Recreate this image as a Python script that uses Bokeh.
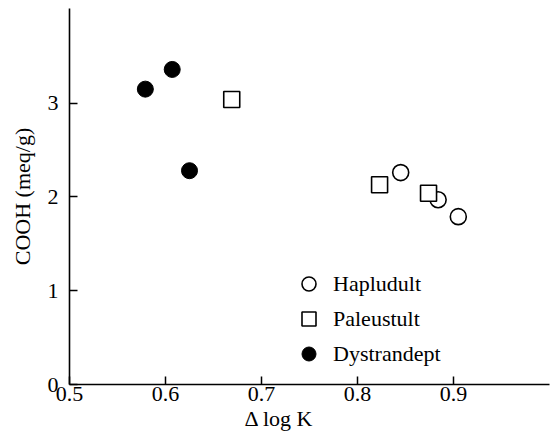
from bokeh.plotting import figure
from bokeh.models import Range1d, FixedTicker, Legend, LegendItem, Title
from bokeh.embed import file_html
from bokeh.resources import INLINE

# Data
hapludult_x = [0.845, 0.884, 0.905]
hapludult_y = [2.26, 1.97, 1.79]
paleustult_x = [0.669, 0.823, 0.874]
paleustult_y = [3.04, 2.13, 2.04]
dystrandept_x = [0.579, 0.607, 0.625]
dystrandept_y = [3.15, 3.36, 2.28]

x_ticks = [0.5, 0.6, 0.7, 0.8, 0.9]
y_ticks = [0, 1, 2, 3]
series_names = ["Hapludult", "Paleustult", "Dystrandept"]
x_title = "\u0394 log K"
y_title = "COOH (meq/g)"

FONT = "Liberation Serif"

p = figure(width=550, height=436, output_backend="svg", toolbar_location=None,
           x_range=Range1d(0.5, 1.0), y_range=Range1d(0, 4.01),
           min_border_left=69, min_border_right=1, min_border_top=8, min_border_bottom=52)
p.outline_line_color = None
p.xgrid.visible = False
p.ygrid.visible = False

r1 = p.scatter(hapludult_x, hapludult_y, marker="circle", size=16,
               fill_color="white", line_color="black", line_width=1.6)
r2 = p.scatter(paleustult_x, paleustult_y, marker="square", size=16,
               fill_color="white", line_color="black", line_width=1.6)
r3 = p.scatter(dystrandept_x, dystrandept_y, marker="circle", size=16,
               fill_color="black", line_color="black", line_width=1)

for ax in (p.xaxis[0], p.yaxis[0]):
    ax.axis_line_color = "black"
    ax.axis_line_width = 1.6
    ax.major_tick_line_width = 1.5
    ax.major_tick_in = 8
    ax.major_tick_out = 0
    ax.minor_tick_line_color = None
    ax.major_label_text_font = FONT
    ax.major_label_text_font_size = "22px"
    ax.major_label_text_color = "black"
    ax.axis_label_text_font = FONT
    ax.axis_label_text_font_size = "22px"
    ax.axis_label_text_font_style = "normal"
    ax.axis_label_text_color = "black"

p.xaxis[0].ticker = FixedTicker(ticks=x_ticks)
p.yaxis[0].ticker = FixedTicker(ticks=y_ticks)
p.yaxis[0].axis_label = y_title
p.xaxis[0].major_label_standoff = 2
p.yaxis[0].major_label_standoff = 11
p.yaxis[0].axis_label_standoff = 10

# x-axis title: left of the frame centre in the reference
p.add_layout(Title(text=x_title, align="left", offset=175, standoff=0,
                   text_font=FONT, text_font_size="22px", text_font_style="normal",
                   text_color="black"), "below")

legend = Legend(items=[LegendItem(label=series_names[0], renderers=[r1]),
                       LegendItem(label=series_names[1], renderers=[r2]),
                       LegendItem(label=series_names[2], renderers=[r3])],
                location=(222, 13), glyph_width=35, glyph_height=35, spacing=0,
                label_standoff=7, padding=0, margin=0,
                border_line_color=None, background_fill_alpha=0,
                label_text_font=FONT, label_text_font_size="22px", label_text_color="black")
p.add_layout(legend)

open("out.html", "w").write(file_html(p, INLINE))
